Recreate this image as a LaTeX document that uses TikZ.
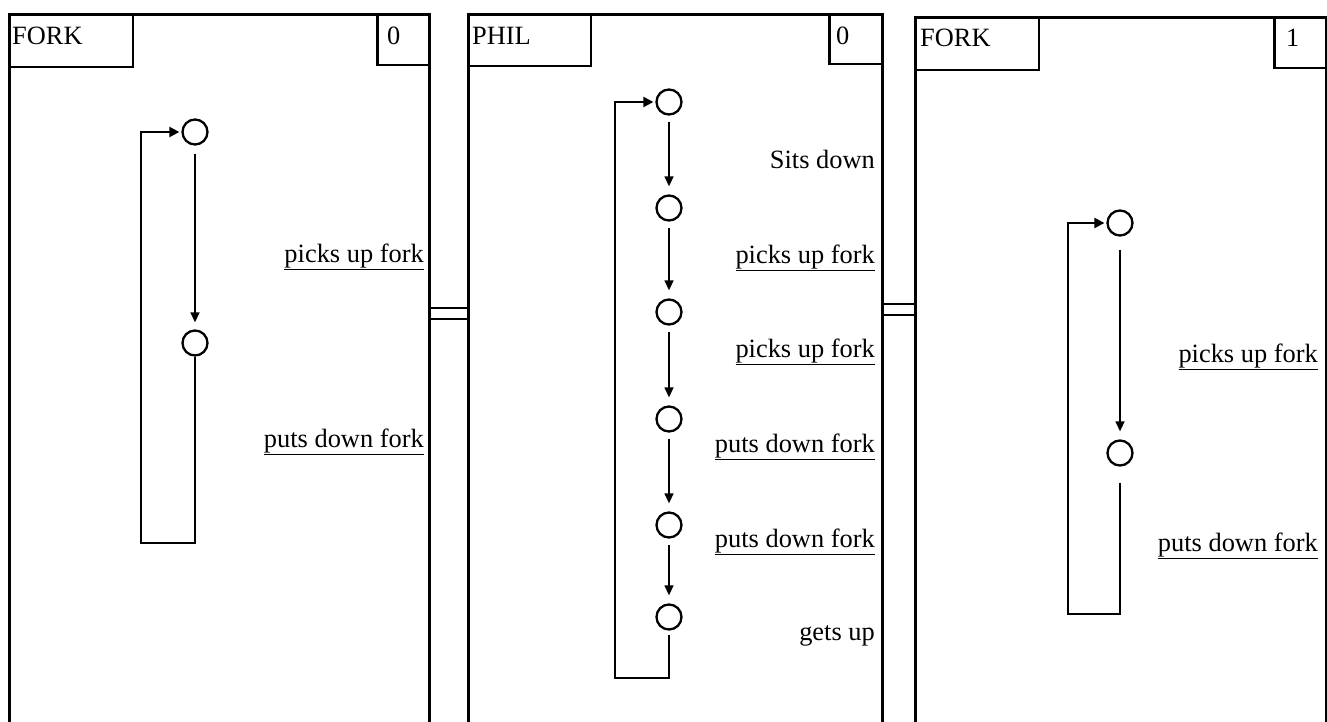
\documentclass[tikz,border=0pt]{standalone}
\usepackage{fontspec}
\setmainfont{Liberation Serif}
\usetikzlibrary{arrows.meta,calc}
\begin{document}
\begin{tikzpicture}[x=1pt,y=-1pt,
  panel/.style={draw,line width=2.8pt,rectangle,anchor=north west,inner sep=0pt},
  hdrbox/.style={draw,line width=2.4pt,rectangle,anchor=north west,inner sep=0pt},
  title/.style={anchor=base west,inner sep=0pt,font=\fontsize{26.4}{28}\selectfont},
  lbl/.style={anchor=base east,inner sep=0pt,font=\fontsize{26.4}{28}\selectfont},
  state/.style={draw,circle,line width=2.3pt,minimum size=25pt,inner sep=0pt},
  stepline/.style={line width=1.4pt,-{Triangle[length=10pt,width=9pt]}},
  loopline/.style={line width=2.2pt,-{Triangle[length=10pt,width=10pt]}},
  dbl/.style={line width=2pt}
]
\useasboundingbox (0,0) rectangle (1327,722);
\begin{scope}
\clip (0,0) rectangle (1327,722);
% panels
\node[panel,minimum width=420pt,minimum height=740pt] (P1) at (8,13) {};
\node[panel,minimum width=414pt,minimum height=740pt] (P2) at (467,13) {};
\node[panel,minimum width=411pt,minimum height=740pt] (P3) at (914,16) {};
\end{scope}
% headers panel 1
\node[hdrbox,minimum width=124pt,minimum height=53pt] (H1) at (P1.north west) {};
\node[hdrbox,minimum width=52pt,minimum height=51pt,anchor=north east] (N1) at (P1.north east) {};
\node[title] (T1) at (12,45) {FORK};
\node[title] (V1) at (387,45) {0};
% headers panel 2
\node[hdrbox,minimum width=123pt,minimum height=52pt] (H2) at (P2.north west) {};
\node[hdrbox,minimum width=53pt,minimum height=50pt,anchor=north east] (N2) at (P2.north east) {};
\node[title] (T2) at (472,45) {PHIL};
\node[title] (V2) at (836,45) {0};
% headers panel 3
\node[hdrbox,minimum width=124pt,minimum height=53pt] (H3) at (P3.north west) {};
\node[hdrbox,minimum width=52pt,minimum height=51pt,anchor=north east] (N3) at (P3.north east) {};
\node[title] (T3) at (920,47) {FORK};
\node[title] (V3) at (1286,47) {1};
% double connectors
\draw[dbl] (P1.east |- 0,308) -- (P2.west |- 0,308);
\draw[dbl] (P1.east |- 0,319) -- (P2.west |- 0,319);
\draw[dbl] (P2.east |- 0,304) -- (P3.west |- 0,304);
\draw[dbl] (P2.east |- 0,315) -- (P3.west |- 0,315);

% panel 1 machine
\node[state] (a1) at (195,132) {};
\node[state] (a2) at (195,343) {};
\draw[stepline,shorten <=8pt,shorten >=7pt] (a1) -- (a2);
\coordinate (a1l) at (141,132);
\draw[loopline,shorten >=2pt] (a2.south) -- ++(0,186) -| (a1l) -- (a1.west);
\node[lbl] (la1) at (424,262) {\underline{picks up fork}};
\node[lbl] (la2) at (424,447) {\underline{puts down fork}};

% panel 2 machine
\node[state] (b1) at (669,102) {};
\node[state] (b2) at (669,208) {};
\node[state] (b3) at (669,312) {};
\node[state] (b4) at (669,419) {};
\node[state] (b5) at (669,525) {};
\node[state] (b6) at (669,617) {};
\foreach \s/\t in {b1/b2,b2/b3,b3/b4,b4/b5,b5/b6}
  \draw[stepline,shorten <=6pt,shorten >=8pt] (\s) -- (\t);
\coordinate (b1l) at (615,102);
\draw[loopline,shorten <=4pt,shorten >=2pt] (b6.south) -- ++(0,47.5) -| (b1l) -- (b1.west);
\node[lbl] (lb1) at (875,169) {Sits down};
\node[lbl] (lb2) at (875,263) {\underline{picks up fork}};
\node[lbl] (lb3) at (875,357) {\underline{picks up fork}};
\node[lbl] (lb4) at (875,452) {\underline{puts down fork}};
\node[lbl] (lb5) at (875,547) {\underline{puts down fork}};
\node[lbl] (lb6) at (875,640) {gets up};

% panel 3 machine
\node[state] (c1) at (1120,223) {};
\node[state] (c2) at (1120,453) {};
\draw[stepline,shorten <=13pt,shorten >=8pt] (c1) -- (c2);
\coordinate (c1l) at (1068,223);
\draw[loopline,shorten <=16pt,shorten >=2pt] (c2.south) -- ++(0,147) -| (c1l) -- (c1.west);
\node[lbl] (lc1) at (1318,362) {\underline{picks up fork}};
\node[lbl] (lc2) at (1318,551) {\underline{puts down fork}};
\end{tikzpicture}
\end{document}
